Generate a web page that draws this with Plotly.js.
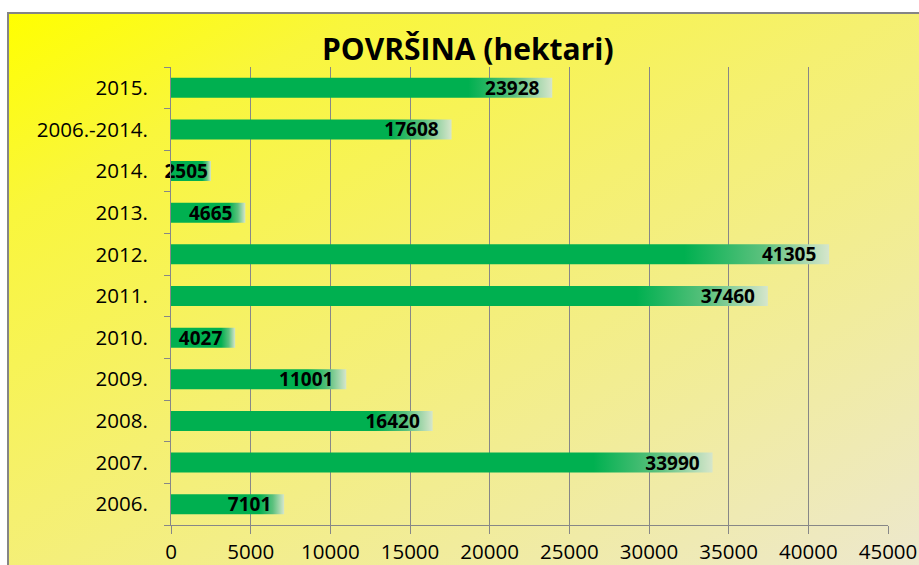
<!DOCTYPE html>
<html>
<head>
<meta charset="utf-8">
<script src="https://cdn.plot.ly/plotly-3.0.1.min.js"></script>
<style>
  html, body { margin: 0; padding: 0; width: 919px; height: 565px; overflow: hidden; background: #ffffff; }
  #bg { position: absolute; left: 7px; top: 12px; width: 940px; height: 580px;
        border-left: 2px solid #858585; border-top: 2px solid #858585;
        background: linear-gradient(150deg, #ffff00 0%, #f9f63c 18%, #f5f070 45%, #f1ec9c 70%, #ece7d6 100%); }
  #chart { position: absolute; left: 0; top: 0; width: 919px; height: 565px; }
</style>
</head>
<body>
<div id="bg"></div>
<div id="chart"></div>
<script>
const categories = ['2006.', '2007.', '2008.', '2009.', '2010.', '2011.', '2012.', '2013.', '2014.', '2006.-2014.', '2015.'];
const values = [7101, 33990, 16420, 11001, 4027, 37460, 41305, 4665, 2505, 17608, 23928];
const xTicks = [0, 5000, 10000, 15000, 20000, 25000, 30000, 35000, 40000, 45000];

const FONT = '"Open Sans", "Noto Sans", sans-serif';
const X_MAX = 45000;
const PLOT_W = 919 - 171 - 31;

// labels that fit inside a bar get a right padding; too-narrow bars get a centred label
const labels = values.map(v => {
  const barPx = v / X_MAX * PLOT_W;
  return barPx > 60 ? String(v) + '\u00a0\u00a0' : String(v);
});

const trace = {
  type: 'bar',
  orientation: 'h',
  y: categories,
  x: values,
  marker: { color: '#00b050', line: { width: 0 } },
  text: labels,
  textposition: 'inside',
  insidetextanchor: 'end',
  constraintext: 'none',
  textfont: { family: FONT, size: 19, color: '#000000', weight: 700 },
  cliponaxis: false,
  hoverinfo: 'x+y'
};

const layout = {
  width: 919,
  height: 565,
  paper_bgcolor: 'rgba(0,0,0,0)',
  plot_bgcolor: 'rgba(0,0,0,0)',
  margin: { l: 171, r: 31, t: 67, b: 40, pad: 0 },
  showlegend: false,
  bargap: 0.52,
  title: {
    text: 'POVRŠINA (hektari)',
    font: { family: FONT, size: 30, color: '#000000', weight: 700 },
    x: 0.509, xref: 'container', xanchor: 'center',
    y: 0.913, yref: 'container', yanchor: 'middle'
  },
  xaxis: {
    range: [0, X_MAX],
    tickvals: xTicks,
    ticktext: xTicks.map(String),
    showgrid: true,
    gridcolor: '#878787',
    gridwidth: 1,
    zeroline: false,
    showline: true,
    linecolor: '#878787',
    linewidth: 1,
    ticks: 'outside',
    ticklen: 8,
    tickcolor: '#878787',
    tickfont: { family: FONT, size: 20.5, color: '#000000' },
    fixedrange: true
  },
  yaxis: {
    type: 'category',
    categoryorder: 'array',
    categoryarray: categories,
    showgrid: false,
    zeroline: false,
    showline: true,
    linecolor: '#878787',
    linewidth: 1,
    ticks: 'outside',
    tickson: 'boundaries',
    ticklen: 6,
    tickcolor: '#878787',
    ticklabelstandoff: 18,
    tickfont: { family: FONT, size: 20.5, color: '#000000' },
    fixedrange: true
  }
};

function applyGradient(gd) {
  const svg = gd.querySelector('svg.main-svg');
  if (!svg) return;
  const ns = 'http://www.w3.org/2000/svg';
  let defs = svg.querySelector('defs');
  if (!defs) { defs = document.createElementNS(ns, 'defs'); svg.insertBefore(defs, svg.firstChild); }
  if (!svg.querySelector('#barGrad')) {
    const lg = document.createElementNS(ns, 'linearGradient');
    lg.setAttribute('id', 'barGrad');
    lg.setAttribute('x1', '0'); lg.setAttribute('y1', '0');
    lg.setAttribute('x2', '1'); lg.setAttribute('y2', '0');
    [['0', '#00b050'], ['0.78', '#00b050'], ['0.9', '#5cc17e'], ['1', '#d6e6cc']].forEach(([o, c]) => {
      const s = document.createElementNS(ns, 'stop');
      s.setAttribute('offset', o); s.setAttribute('stop-color', c);
      lg.appendChild(s);
    });
    defs.appendChild(lg);
  }
  gd.querySelectorAll('.barlayer .point path').forEach(p => { p.style.fill = 'url(#barGrad)'; });
}

Plotly.newPlot('chart', [trace], layout, { displayModeBar: false, staticPlot: true }).then(gd => {
  applyGradient(gd);
  gd.on('plotly_afterplot', () => applyGradient(gd));
});
</script>
</body>
</html>
